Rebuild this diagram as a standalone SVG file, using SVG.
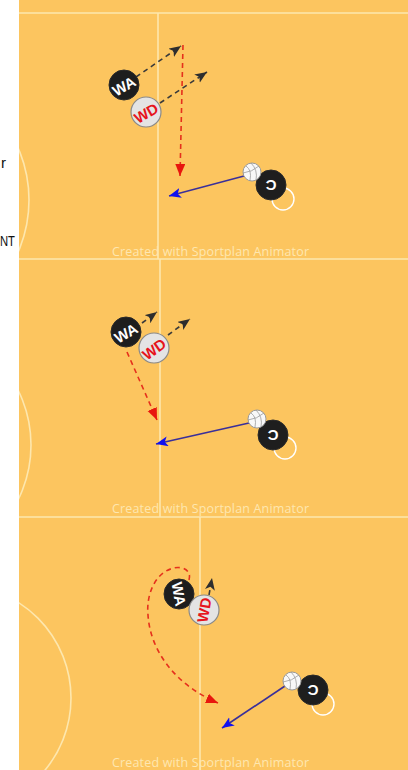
<svg xmlns="http://www.w3.org/2000/svg" width="408" height="770" viewBox="0 0 408 770">
<style>
.bg{fill:#fcc55f}
.ln{stroke:#fde7ae;stroke-width:1.6;fill:none}
.wm{font-family:"Open Sans","Liberation Sans",sans-serif;font-size:12.5px;fill:#fee7b0}
.side{font-family:"Liberation Sans",Arial,sans-serif;font-size:15px;fill:#111}
.pl{font-family:"Liberation Sans",Arial,sans-serif;font-weight:bold;font-size:15px;text-anchor:middle;dominant-baseline:central}
.blk{fill:#1e1e1e;stroke:#2a2a2a;stroke-width:1}
.wht{fill:#e4e4e4;stroke:#8a8a8a;stroke-width:1.2}
.ring{fill:none;stroke:#ffffff;stroke-width:1.4}
.ball{fill:#f8f8f8;stroke:#9a9a9a;stroke-width:1}
.seam{fill:none;stroke:#9a9a9a;stroke-width:0.8}
.dk{stroke:#3a3a3a;stroke-width:1.6;stroke-dasharray:5,4;fill:none}
.rd{stroke:#e5301c;stroke-width:1.6;stroke-dasharray:5,4;fill:none}
.bl{stroke:#3a2f9a;stroke-width:1.6;fill:none}
</style>
<defs>
<marker id="ak" markerUnits="userSpaceOnUse" markerWidth="14" markerHeight="12" refX="12" refY="5" orient="auto"><path d="M0,0 L12,5 L0,10 L3,5 z" fill="#2e2e2e"/></marker>
<marker id="ar" markerUnits="userSpaceOnUse" markerWidth="14" markerHeight="12" refX="12" refY="5" orient="auto"><path d="M0,0 L12,5 L0,10 z" fill="#e8160e"/></marker>
<marker id="ab" markerUnits="userSpaceOnUse" markerWidth="14" markerHeight="12" refX="12" refY="5" orient="auto"><path d="M0,0 L12,5 L0,10 L3,5 z" fill="#1010f0"/></marker>
<clipPath id="c1"><rect x="19" y="0" width="389" height="259"/></clipPath>
<clipPath id="c2"><rect x="19" y="259" width="389" height="258"/></clipPath>
<clipPath id="c3"><rect x="19" y="517" width="389" height="253"/></clipPath>
<g id="ballg">
<circle r="9" class="ball"/>
<path class="seam" d="M-6,-6 Q0,-2 -2,8 M-1,-9 Q6,-2 4,8 M-9,1 Q0,0 7,-6"/>
</g>
</defs>

<text class="side" x="1" y="168">r</text>
<text class="side" x="0" y="246" textLength="15" lengthAdjust="spacingAndGlyphs">NT</text>

<rect class="bg" x="19" y="0" width="389" height="770"/>

<g id="court">
<line class="ln" x1="19" y1="13" x2="408" y2="13"/>
<line class="ln" x1="19" y1="259" x2="408" y2="259"/>
<line class="ln" x1="19" y1="517" x2="408" y2="517"/>
<line class="ln" x1="158" y1="13" x2="158" y2="259"/>
<line class="ln" x1="160" y1="259" x2="160" y2="517"/>
<line class="ln" x1="200" y1="517" x2="200" y2="770"/>
<circle class="ln" cx="-101" cy="200" r="130" clip-path="url(#c1)"/>
<circle class="ln" cx="-92" cy="445" r="123" clip-path="url(#c2)"/>
<circle class="ln" cx="-42" cy="698" r="113" clip-path="url(#c3)"/>
<text class="wm" x="112" y="256" textLength="197">Created with Sportplan Animator</text>
<text class="wm" x="112" y="513" textLength="197">Created with Sportplan Animator</text>
<text class="wm" x="112" y="767" textLength="197">Created with Sportplan Animator</text>
</g>

<g id="connectors">
<line class="dk" x1="136" y1="77" x2="181" y2="46" marker-end="url(#ak)"/>
<line class="dk" x1="160" y1="103" x2="207" y2="72" marker-end="url(#ak)"/>
<line class="rd" x1="183" y1="45" x2="180" y2="176" marker-end="url(#ar)"/>
<line class="bl" x1="244" y1="176" x2="169" y2="196" marker-end="url(#ab)"/>

<line class="dk" x1="142" y1="323" x2="157" y2="312" marker-end="url(#ak)"/>
<line class="dk" x1="168" y1="335" x2="190" y2="319" marker-end="url(#ak)"/>
<line class="rd" x1="127" y1="352" x2="157" y2="420" marker-end="url(#ar)"/>
<line class="bl" x1="249" y1="423" x2="156" y2="444" marker-end="url(#ab)"/>

<line class="dk" x1="209" y1="595" x2="212" y2="578" marker-end="url(#ak)"/>
<path class="rd" d="M189,580 C192,570 182,566 174,568 C155,572 146,595 148,615 C150,650 175,685 218,703" marker-end="url(#ar)"/>
<line class="bl" x1="285" y1="686" x2="222" y2="728" marker-end="url(#ab)"/>
</g>

<g id="p1-WA"><circle class="blk" cx="124" cy="85" r="15"/><text class="pl" fill="#fff" transform="translate(124,86) rotate(-30)">WA</text></g>
<g id="p1-WD"><circle class="wht" cx="146" cy="112" r="15"/><text class="pl" fill="#e6141c" transform="translate(146,113) rotate(-30)">WD</text></g>
<g id="p1-ring"><circle class="ring" cx="283" cy="199" r="11"/></g>
<g id="p1-C"><circle class="blk" cx="271" cy="185" r="15"/><text class="pl" fill="#fff" transform="translate(271,185) rotate(180)">C</text></g>
<g id="p1-ball"><use href="#ballg" x="252" y="172"/></g>

<g id="p2-WA"><circle class="blk" cx="126" cy="332" r="15"/><text class="pl" fill="#fff" transform="translate(126,333) rotate(-30)">WA</text></g>
<g id="p2-WD"><circle class="wht" cx="154" cy="348" r="15"/><text class="pl" fill="#e6141c" transform="translate(154,349) rotate(-35)">WD</text></g>
<g id="p2-ring"><circle class="ring" cx="285" cy="448" r="11"/></g>
<g id="p2-C"><circle class="blk" cx="273" cy="435" r="15"/><text class="pl" fill="#fff" transform="translate(273,435) rotate(180)">C</text></g>
<g id="p2-ball"><use href="#ballg" x="257" y="419"/></g>

<g id="p3-WA"><circle class="blk" cx="179" cy="594" r="15"/><text class="pl" fill="#fff" transform="translate(179,594) rotate(80)">WA</text></g>
<g id="p3-WD"><circle class="wht" cx="204" cy="610" r="15"/><text class="pl" fill="#e6141c" transform="translate(204,610) rotate(-80)">WD</text></g>
<g id="p3-ring"><circle class="ring" cx="323" cy="704" r="11"/></g>
<g id="p3-C"><circle class="blk" cx="313" cy="690" r="15"/><text class="pl" fill="#fff" transform="translate(313,690) rotate(180)">C</text></g>
<g id="p3-ball"><use href="#ballg" x="292" y="681"/></g>
</svg>
